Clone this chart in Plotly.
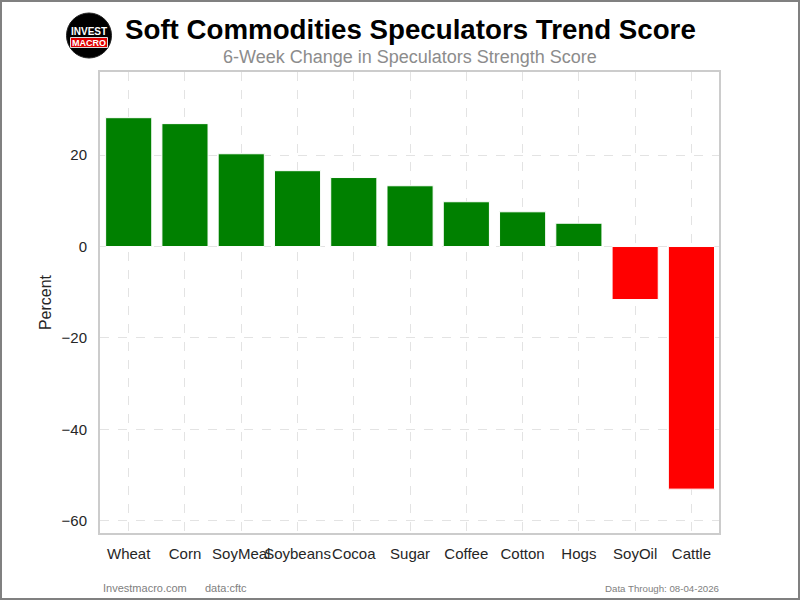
import plotly.graph_objects as go

# data
commodities = ['Wheat', 'Corn', 'SoyMeal', 'Soybeans', 'Cocoa', 'Sugar',
               'Coffee', 'Cotton', 'Hogs', 'SoyOil', 'Cattle']
change_pct = [28.2, 26.9, 20.3, 16.6, 15.1, 13.3, 9.8, 7.6, 5.1, -11.6, -53.1]
bar_colors = ['green' if v >= 0 else 'red' for v in change_pct]

title = 'Soft Commodities Speculators Trend Score'
subtitle = '6-Week Change in Speculators Strength Score'
source_site = 'Investmacro.com'
source_data = 'data:cftc'
data_through = 'Data Through: 08-04-2026'

W, H = 800, 600
ML, MR, MT, MB = 100, 81, 72, 67
PW, PH = W - ML - MR, H - MT - MB


def px_x(x):
    return (x - ML) / PW


def px_y(y):
    return (H - MB - y) / PH


def label(text, x, y, size, color, xanchor='center'):
    return dict(text=text, x=px_x(x), y=px_y(y), xref='paper', yref='paper',
                xanchor=xanchor, yanchor='middle', showarrow=False,
                font=dict(size=size, color=color))


fig = go.Figure(go.Bar(
    x=commodities, y=change_pct,
    marker=dict(color=bar_colors, line=dict(color='white', width=1)),
    width=0.82,
))

font = 'Liberation Sans, Arial, sans-serif'

fig.update_layout(
    width=W, height=H,
    margin=dict(l=ML, r=MR, t=MT, b=MB),
    paper_bgcolor='white', plot_bgcolor='white',
    font=dict(family=font, size=15, color='#262626'),
    showlegend=False,
    xaxis=dict(range=[-0.51, 10.49], showgrid=True, gridcolor='#e3e3e3',
               griddash='dash', gridwidth=1, showline=True, mirror=True,
               linecolor='#cccccc', linewidth=2, ticks='', tickangle=0,
               ticklabelstandoff=6),
    yaxis=dict(range=[-62.7, 38.2], dtick=20, showgrid=True, gridcolor='#e3e3e3',
               griddash='dash', gridwidth=1, zeroline=False, showline=True,
               mirror=True, linecolor='#cccccc', linewidth=2, ticks='',
               ticklabelstandoff=8,
               title=dict(text='Percent', standoff=6, font=dict(size=16))),
    annotations=[
        label('<b>' + title + '</b>', 410, 29, 27.7, 'black'),
        label(subtitle, 410, 57, 18, '#8c8c8c'),
        label(source_site, 101, 588, 11, '#808080', 'left'),
        label(source_data, 203, 588, 11, '#808080', 'left'),
        label(data_through, 721, 588, 9.7, '#808080', 'right'),
        # logo text
        label('<b>INVEST</b>', 89, 31.5, 10, 'white'),
        label('<b>MACRO</b>', 89, 42.5, 9, 'white'),
    ],
    shapes=[
        # outer figure border
        dict(type='rect', xref='paper', yref='paper', x0=px_x(1), x1=px_x(799),
             y0=px_y(599), y1=px_y(1), line=dict(color='#808080', width=2)),
        # logo circle and red band
        dict(type='circle', xref='paper', yref='paper', x0=px_x(66.5), x1=px_x(111.5),
             y0=px_y(58), y1=px_y(13), fillcolor='black', line=dict(color='#222', width=1)),
        dict(type='rect', xref='paper', yref='paper', x0=px_x(70.5), x1=px_x(107.5),
             y0=px_y(47.5), y1=px_y(37.5), fillcolor='#e00000',
             line=dict(color='#dddddd', width=1)),
    ],
)

fig.write_html('out.html', config={'displayModeBar': False},
               post_script="document.body.style.margin='0';")
